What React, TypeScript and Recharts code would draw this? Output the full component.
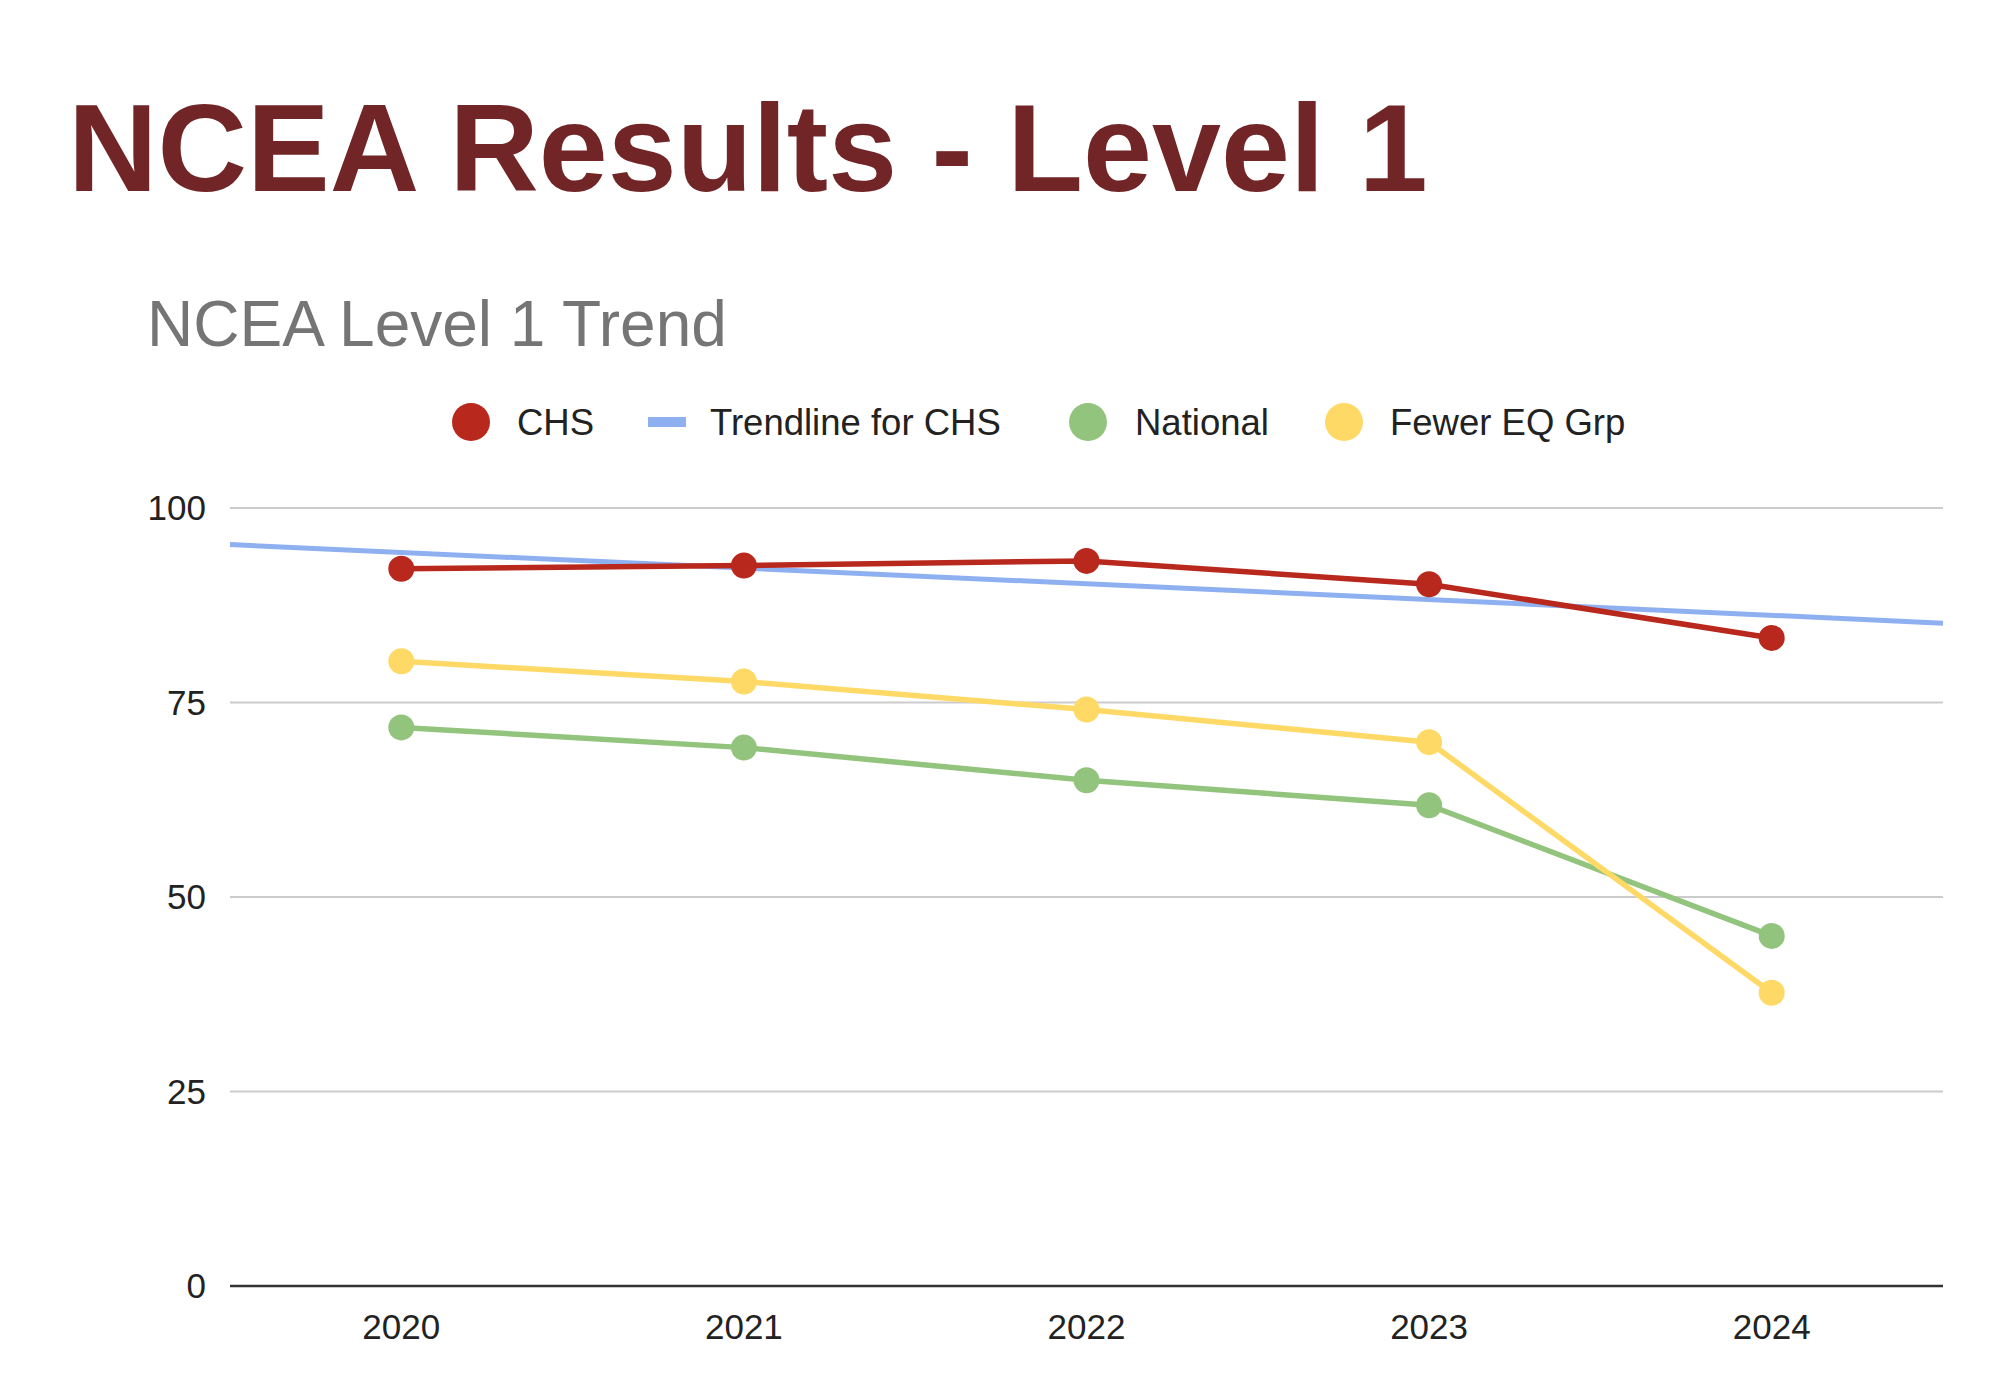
import { LineChart, Line, XAxis, YAxis, CartesianGrid } from "recharts";

const years = [2020, 2021, 2022, 2023, 2024];
const chs = [92.2, 92.6, 93.2, 90.2, 83.3];
const national = [71.8, 69.2, 65.0, 61.8, 45.0];
const fewerEq = [80.3, 77.7, 74.1, 69.9, 37.7];
// trendline read at the plot edges
const trendX = [2019.5, 2024.5];
const trendY = [95.3, 85.2];
const yTicks = [0, 25, 50, 75, 100];

const RED = "#b8281c";
const BLUE = "#8fb0f0";
const GREEN = "#93c47d";
const YELLOW = "#ffd966";
const FONT = "'Liberation Sans', Arial, sans-serif";

const rows = [
  ...years.map((y, i) => ({ x: y, chs: chs[i], national: national[i], fewer: fewerEq[i] })),
  ...trendX.map((x, i) => ({ x, trend: trendY[i] })),
].sort((a, b) => a.x - b.x);

const legend = [
  { label: "CHS", color: RED, dot: true, left: 452, text: 517 },
  { label: "Trendline for CHS", color: BLUE, dot: false, left: 648, text: 710 },
  { label: "National", color: GREEN, dot: true, left: 1069, text: 1135 },
  { label: "Fewer EQ Grp", color: YELLOW, dot: true, left: 1325, text: 1390 },
];

export default function App() {
  const tick = { fontSize: 35, fill: "#222", fontFamily: FONT };
  return (
    <div style={{ position: "fixed", left: 0, top: 0, width: 2000, height: 1399, background: "#fff", fontFamily: FONT }}>
      <div style={{ position: "absolute", left: 68, top: 86, fontSize: 124, lineHeight: 1, fontWeight: 700, color: "#722526", whiteSpace: "nowrap" }}>
        NCEA Results - Level 1
      </div>
      <div style={{ position: "absolute", left: 147, top: 292, fontSize: 64, lineHeight: 1, color: "#757575", whiteSpace: "nowrap" }}>
        NCEA Level 1 Trend
      </div>
      {legend.map((l) => (
        <div key={l.label}>
          {l.dot ? (
            <div style={{ position: "absolute", left: l.left, top: 403, width: 38, height: 38, borderRadius: 19, background: l.color }} />
          ) : (
            <div style={{ position: "absolute", left: l.left, top: 417, width: 38, height: 10, background: l.color }} />
          )}
          <div style={{ position: "absolute", left: l.text, top: 405, fontSize: 36.5, lineHeight: 1, color: "#222", whiteSpace: "nowrap" }}>
            {l.label}
          </div>
        </div>
      ))}
      <div style={{ position: "absolute", left: 0, top: 0 }}>
        <LineChart width={2000} height={1399} data={rows} margin={{ top: 508, right: 57, bottom: 33, left: 0 }}>
          <CartesianGrid stroke="#cccccc" strokeWidth={2} vertical={false} />
          <XAxis
            dataKey="x"
            type="number"
            domain={[2019.5, 2024.5]}
            ticks={years}
            tick={tick}
            tickLine={false}
            axisLine={{ stroke: "#333", strokeWidth: 2.5 }}
            tickMargin={22}
            height={80}
          />
          <YAxis
            domain={[0, 100]}
            ticks={yTicks}
            tick={tick}
            tickLine={false}
            axisLine={false}
            width={230}
            tickMargin={18}
          />
          <Line dataKey="trend" stroke={BLUE} strokeWidth={5} dot={false} connectNulls isAnimationActive={false} />
          <Line dataKey="national" stroke={GREEN} strokeWidth={5.5} dot={{ r: 13, fill: GREEN, stroke: GREEN, strokeWidth: 0 }} connectNulls isAnimationActive={false} />
          <Line dataKey="fewer" stroke={YELLOW} strokeWidth={5.5} dot={{ r: 13, fill: YELLOW, stroke: YELLOW, strokeWidth: 0 }} connectNulls isAnimationActive={false} />
          <Line dataKey="chs" stroke={RED} strokeWidth={5.5} dot={{ r: 13, fill: RED, stroke: RED, strokeWidth: 0 }} connectNulls isAnimationActive={false} />
        </LineChart>
      </div>
    </div>
  );
}
